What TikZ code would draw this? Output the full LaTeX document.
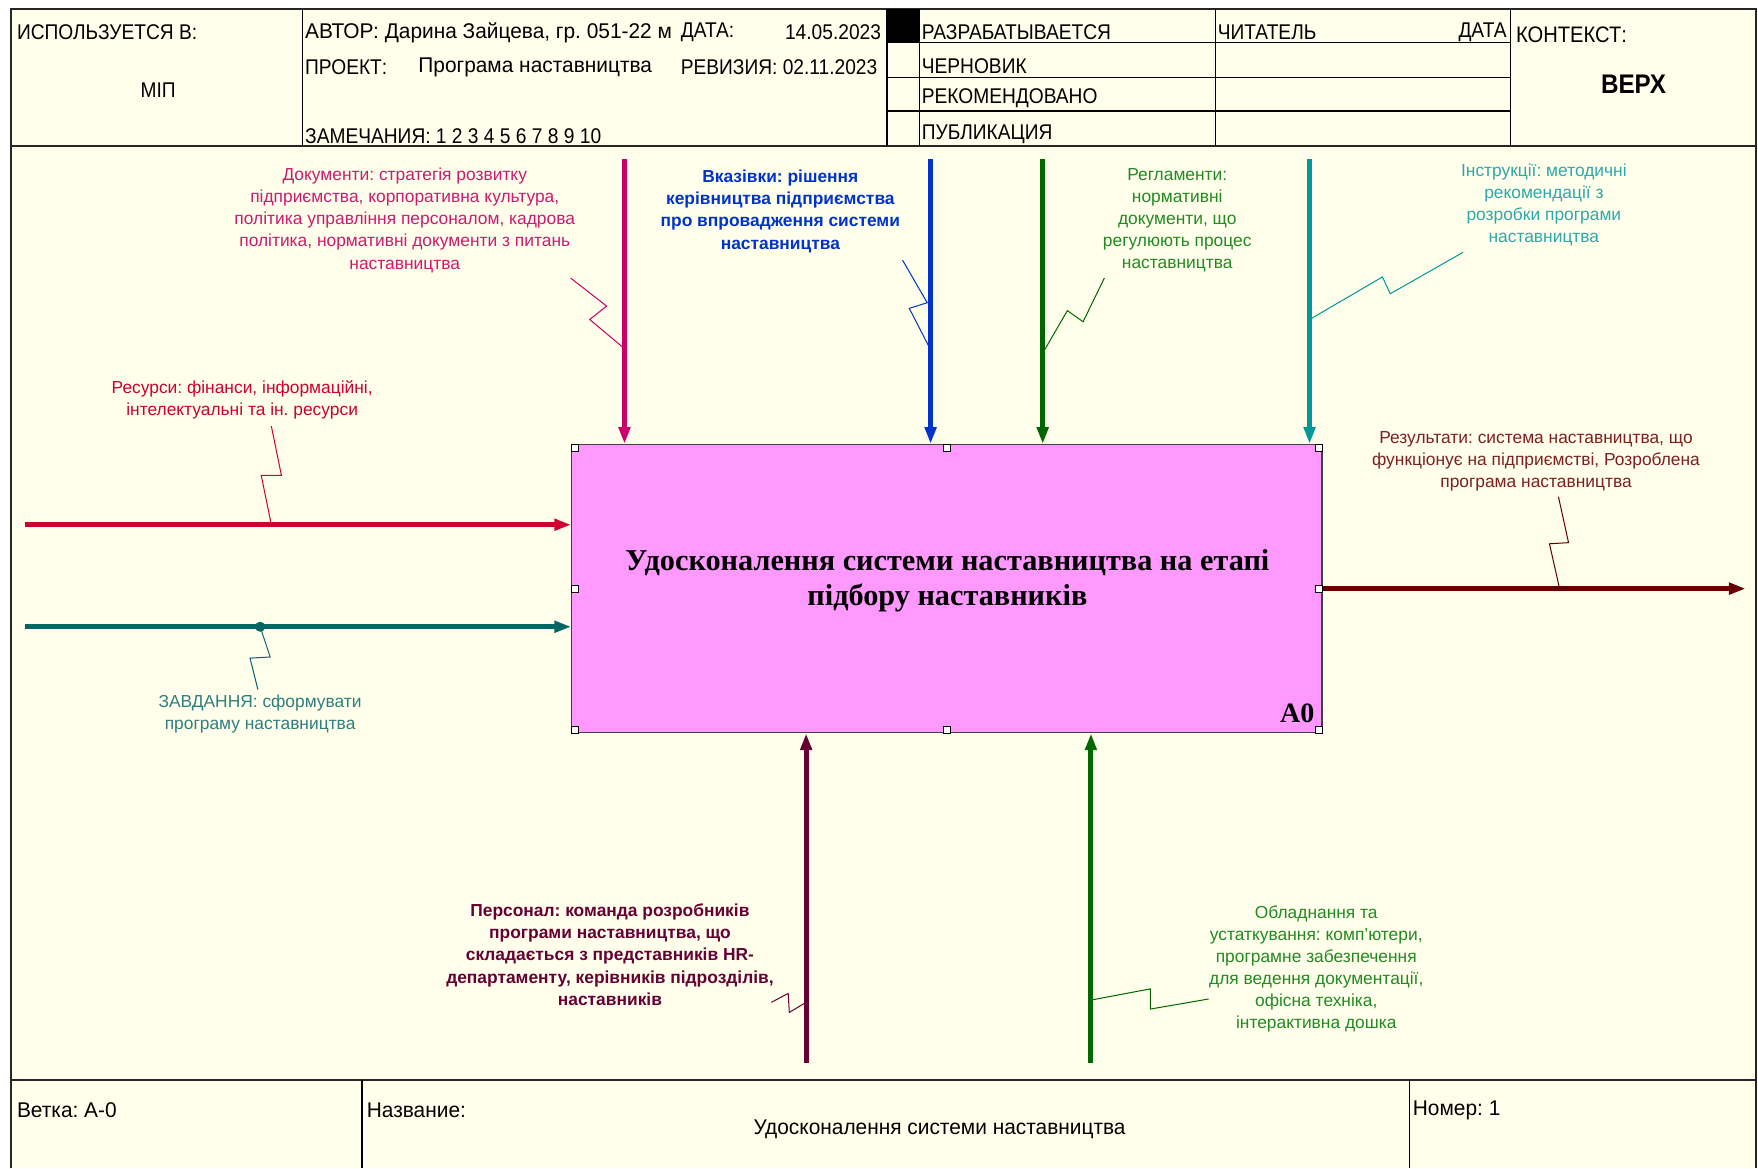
\documentclass[tikz,border=0pt]{standalone}
\usepackage{fontspec}
\setmainfont{Liberation Sans}
\newfontfamily\idefserif{Liberation Serif}
\newfontfamily\idefform[FakeStretch=0.9]{Liberation Sans}
\newfontfamily\idefwide[FakeStretch=0.98]{Liberation Sans}
\usetikzlibrary{arrows.meta}
\frenchspacing

\definecolor{paper}{HTML}{FFFFEC}
\definecolor{boxpink}{HTML}{FF99FF}
\definecolor{docC}{HTML}{CC0066}
\definecolor{docT}{HTML}{D01A6E}
\definecolor{ukazC}{HTML}{0033CC}
\definecolor{reglC}{HTML}{006600}
\definecolor{reglT}{HTML}{238A23}
\definecolor{instrC}{HTML}{009999}
\definecolor{instrT}{HTML}{2EA8A8}
\definecolor{resC}{HTML}{CC0033}
\definecolor{zavdC}{HTML}{006666}
\definecolor{zavdT}{HTML}{2E7F7F}
\definecolor{outC}{HTML}{660000}
\definecolor{outT}{HTML}{7F1F1F}
\definecolor{persC}{HTML}{660033}

\tikzset{
  link/.style={line width=4.5pt,-{Triangle[length=15pt,width=10pt]}},
  lead/.style={line width=0.9pt},
  note/.style={align=center,inner sep=0pt,font=\fontsize{15.5}{19.7}\selectfont},
  boldnote/.style={note,font=\bfseries\fontsize{15.5}{19.7}\selectfont},
  formtext/.style={anchor=west,inner sep=0pt,font=\idefform\fontsize{19}{22}\selectfont},
  widetext/.style={formtext,font=\idefwide\fontsize{19}{22}\selectfont},
  handle/.style={draw,fill=white,line width=0.6pt,minimum size=6pt,inner sep=0pt}
}

\begin{document}
\begin{tikzpicture}[x=1pt,y=-1pt]
\useasboundingbox (0,0) rectangle (1568,1042);
\fill[white] (0,0) rectangle (1568,1042);
\fill[paper] (10,8) rectangle (1566,1042);
\draw[line width=1.6pt,black!85] (10,1042) -- (10,8) -- (1566,8) -- (1566,1042);
\draw[line width=1.6pt,black!85] (10,130) -- (1566,130) (10,963) -- (1566,963);
\foreach \x in {270,791,820,1084,1347} \draw[line width=1.2pt] (\x,8) -- (\x,130);
\foreach \y in {38,69,99} \draw[line width=1.2pt] (791,\y) -- (1347,\y);
\fill (791,8) rectangle (820,38);
\foreach \x in {323,1257} \draw[line width=1.2pt] (\x,963) -- (\x,1042);

\node[formtext] (usedin) at (15,29) {ИСПОЛЬЗУЕТСЯ В:};
\node[formtext,anchor=center] (usedval) at (141,80) {МІП};
\node[widetext] (author) at (272,29) {АВТОР: Дарина Зайцева, гр. 051-22 м};
\node[formtext] (datelbl) at (607,29) {ДАТА:};
\node[formtext,anchor=east] (dateval) at (786,29) {14.05.2023};
\node[formtext] (project) at (272,60) {ПРОЕКТ:};
\node[widetext] (projval) at (373,60) {Програма наставництва};
\node[formtext] (revision) at (607,60) {РЕВИЗИЯ: 02.11.2023};
\node[formtext] (notes) at (272,121) {ЗАМЕЧАНИЯ: 1 2 3 4 5 6 7 8 9 10};
\foreach \t/\y [count=\i] in {РАЗРАБАТЫВАЕТСЯ/29,ЧЕРНОВИК/59,РЕКОМЕНДОВАНО/88,ПУБЛИКАЦИЯ/120}
  \node[formtext] (status\i) at (822,\y) {\t};
\node[formtext] (reader) at (1086,29) {ЧИТАТЕЛЬ};
\node[formtext,anchor=east] (readdate) at (1344,29) {ДАТА};
\node[formtext,font=\idefform\fontsize{20}{22}\selectfont] (context) at (1352,31) {КОНТЕКСТ:};
\node[formtext,anchor=center,font=\idefform\bfseries\fontsize{24}{26}\selectfont] (ctxval) at (1457,75) {ВЕРХ};
\node[widetext] (branch) at (15,990) {Ветка: А-0};
\node[widetext] (name) at (327,990) {Название:};
\node[widetext,anchor=center] (nameval) at (838,1007) {Удосконалення системи наставництва};
\node[widetext] (number) at (1260,990) {Номер: 1};

\node[draw=black!75,line width=1.2pt,fill=boxpink,minimum width=669pt,minimum height=257pt,inner sep=0pt] (a0) at (844.5,525) {};
\node[font=\idefserif\bfseries\fontsize{27}{31}\selectfont,align=center,inner sep=0pt] (a0name) at (845,518) {Удосконалення системи наставництва на етапі\\підбору наставників};
\node[font=\idefserif\bfseries\fontsize{25}{25}\selectfont,inner sep=0pt] (a0num) at (1157,636) {A0};

\coordinate (docin) at (557,142);
\coordinate (ukazin) at (830,142);
\coordinate (reglin) at (930,142);
\coordinate (instrin) at (1168,142);
\coordinate (resin) at (22,468);
\coordinate (zavdin) at (22,559);
\coordinate (rezout) at (1557,525);
\coordinate (persin) at (719,948);
\coordinate (oblin) at (973,948);

\draw[link,docC] (docin) -- (docin |- a0.north);
\draw[link,ukazC] (ukazin) -- (ukazin |- a0.north);
\draw[link,reglC] (reglin) -- (reglin |- a0.north);
\draw[link,instrC] (instrin) -- (instrin |- a0.north);
\draw[link,resC] (resin) -- (resin -| a0.west);
\draw[link,zavdC] (zavdin) -- (zavdin -| a0.west);
\draw[link,outC] (a0.east) -- (rezout);
\draw[link,persC] (persin) -- (persin |- a0.south);
\draw[link,reglC] (oblin) -- (oblin |- a0.south);
\foreach \a in {north west,north,north east,west,east,south west,south,south east}
  \node[handle,anchor=\a] at (a0.\a) {};

\node[note,text=docT] (docs) at (361,196.5) {Документи: стратегія розвитку\\підприємства, корпоративна культура,\\політика управління персоналом, кадрова\\політика, нормативні документи з питань\\наставництва};
\draw[lead,docC] (509,248) -- (541,273) -- (526,285) -- (docin |- 0,311);
\node[boldnote,text=ukazC] (ukaz) at (696,188.5) {Вказівки: рішення\\керівництва підприємства\\про впровадження системи\\наставництва};
\draw[lead,ukazC] (805,232) -- (827,270) -- (811,275) -- (ukazin |- 0,312);
\node[note,text=reglT] (regl) at (1050,196.5) {Регламенти:\\нормативні\\документи, що\\регулюють процес\\наставництва};
\draw[lead,reglC] (985,248) -- (966,287) -- (952,277) -- (reglin |- 0,315);
\node[note,text=instrT] (instr) at (1377,182.5) {Інструкції: методичні\\рекомендації з\\розробки програми\\наставництва};
\draw[lead,instrC] (1305,225) -- (1240,262) -- (1233,247) -- (instrin |- 0,285);
\node[note,text=resC] (res) at (216,357) {Ресурси: фінанси, інформаційні,\\інтелектуальні та ін. ресурси};
\draw[lead,resC] (242,380) -- (251,424) -- (233,424) -- (resin -| 242,0);
\node[note,text=zavdT] (zavd) at (232,637) {ЗАВДАННЯ: сформувати\\програму наставництва};
\fill[zavdC] (zavdin -| 232,0) circle (4.5pt);
\draw[lead,zavdC] (zavdin -| 232,0) -- (241,586) -- (223,587) -- (230,615);
\node[note,text=outT] (rez) at (1370,411.5) {Результати: система наставництва, що\\функціонує на підприємстві, Розроблена\\програма наставництва};
\draw[lead,outC] (1390,443) -- (1399,484) -- (1382,485) -- (rezout -| 1391,0);
\node[boldnote,text=persC] (pers) at (544,851.5) {Персонал: команда розробників\\програми наставництва, що\\складається з представників HR-\\департаменту, керівників підрозділів,\\наставників};
\draw[lead,persC] (688,894) -- (703,886) -- (704,903) -- (persin |- 0,894);
\node[note,text=reglT] (obl) at (1174,864) {Обладнання та\\устаткування: комп'ютери,\\програмне забезпечення\\для ведення документації,\\офісна техніка,\\інтерактивна дошка};
\draw[lead,reglC] (oblin |- 0,892) -- (1026,882) -- (1026,900) -- (1078,891);
\end{tikzpicture}
\end{document}
